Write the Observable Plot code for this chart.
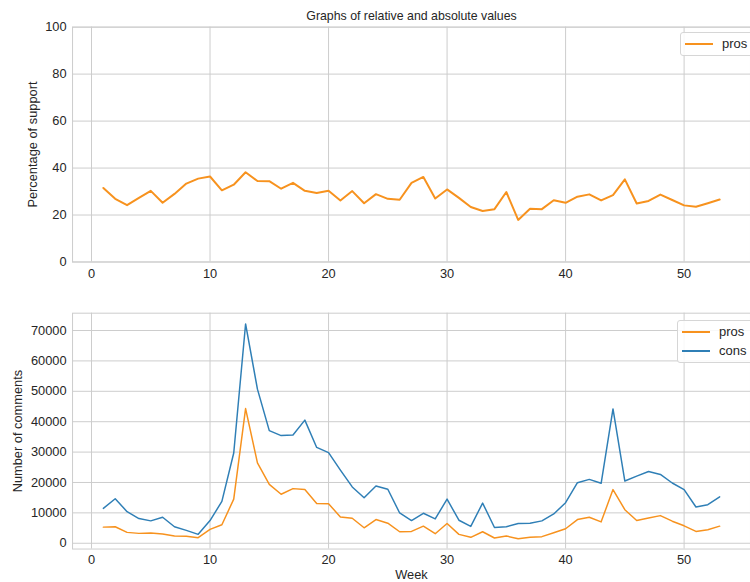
<!DOCTYPE html>
<html>
<head>
<meta charset="utf-8">
<script src="https://cdn.jsdelivr.net/npm/d3@7"></script>
<script src="https://cdn.jsdelivr.net/npm/@observablehq/plot@0.6"></script>
<style>
  html, body { margin: 0; padding: 0; background: #fff; overflow: hidden; }
  #wrap { position: relative; width: 750px; height: 582px; overflow: hidden; font-family: "Liberation Sans", Arial, sans-serif; }
  .panel { position: absolute; left: 0; }
  .legend { position: absolute; background: rgba(255,255,255,0.85); border: 1px solid #d6d6d6; border-radius: 3px; color: #262626; font-size: 13px; width: 100px; }
  .item { position: absolute; left: 0; height: 16px; }
  .swatch { position: absolute; left: 4px; width: 28px; }
  .lab { position: absolute; left: 41px; white-space: nowrap; line-height: 16px; }
</style>
</head>
<body>
<div id="wrap"></div>
<script>
// ---- data ----
const weeks = [1,2,3,4,5,6,7,8,9,10,11,12,13,14,15,16,17,18,19,20,21,22,23,24,25,26,27,28,29,30,31,32,33,34,35,36,37,38,39,40,41,42,43,44,45,46,47,48,49,50,51,52,53];
const pctPros = [31.5,26.9,24.2,27.3,30.3,25.2,29.0,33.4,35.5,36.4,30.5,32.9,38.2,34.5,34.4,31.2,33.7,30.3,29.4,30.3,26.2,30.2,25.0,28.9,26.9,26.5,33.7,36.2,27.0,30.9,27.3,23.4,21.7,22.5,29.8,17.9,22.7,22.5,26.3,25.2,27.8,28.8,26.2,28.5,35.2,24.9,26.0,28.7,26.4,24.1,23.5,25.0,26.6];
const prosCount = [5310,5420,3580,3250,3360,3030,2380,2280,1840,4550,6070,14520,44310,26440,19390,16140,17980,17660,13110,13000,8670,8230,5090,7800,6610,3790,3900,5630,3140,6500,2930,1950,3790,1730,2380,1500,1950,2170,3470,4770,7800,8560,7040,17660,11050,7480,8340,9100,7260,5740,3900,4440,5630];
const consCount = [11480,14630,10400,8130,7370,8560,5420,4230,2930,7480,13760,29690,72160,50700,37050,35430,35640,40520,31530,29800,24050,18530,14950,18850,17770,9970,7480,9860,8020,14520,7580,5530,13220,5200,5420,6500,6610,7370,9640,13330,19930,21020,19720,44200,20480,22100,23620,22640,19830,17660,11920,12680,15280];
const xTicks = [0,10,20,30,40,50];
const yTicksPct = [0,20,40,60,80,100];
const yTicksCount = [0,10000,20000,30000,40000,50000,60000,70000];
const seriesNames = ["pros","cons"];
const colors = ["#f7921e","#2f7fb6"];
const titleText = "Graphs of relative and absolute values";
const yLabelTop = "Percentage of support";
const yLabelBottom = "Number of comments";
const xLabel = "Week";

// ---- tables ----
const relData = weeks.map((w,i) => ({week: w, pct: pctPros[i]}));
const absData = [
  ...weeks.map((w,i) => ({week: w, value: prosCount[i], series: "pros"})),
  ...weeks.map((w,i) => ({week: w, value: consCount[i], series: "cons"}))
];

const grid = {stroke: "#cccccc", strokeOpacity: 1, strokeWidth: 1};
const font = {fontFamily: "'Liberation Sans', Arial, sans-serif", fontSize: "13px", color: "#262626", background: "transparent", overflow: "visible"};

const p1 = Plot.plot({
  width: 760, height: 290,
  marginLeft: 73, marginRight: 0, marginTop: 27, marginBottom: 25,
  style: font,
  x: {domain: [-1.6, 55.6]},
  y: {domain: [0, 100]},
  marks: [
    Plot.gridX(xTicks, grid),
    Plot.gridY(yTicksPct, grid),
    Plot.frame({stroke: "#cccccc"}),
    Plot.line(relData, {x: "week", y: "pct", stroke: colors[0], strokeWidth: 2}),
    Plot.axisX(xTicks, {tickSize: 0, tickPadding: 7, label: null, fontSize: 13}),
    Plot.axisY(yTicksPct, {tickSize: 0, tickPadding: 6, label: null, fontSize: 13}),
    Plot.text([yLabelTop], {text: d => d, frameAnchor: "left", textAnchor: "middle", dx: -40, rotate: -90, fontSize: 13, fill: "#262626"}),
    Plot.text([titleText], {text: d => d, frameAnchor: "top", dy: -7, lineAnchor: "bottom", fontSize: 12.5, fill: "#262626"})
  ]
});

const p2 = Plot.plot({
  width: 760, height: 310,
  marginLeft: 73, marginRight: 0, marginTop: 23, marginBottom: 48,
  style: font,
  x: {domain: [-1.6, 55.6]},
  y: {domain: [-1900, 75700]},
  color: {domain: seriesNames, range: colors},
  marks: [
    Plot.gridX(xTicks, grid),
    Plot.gridY(yTicksCount, grid),
    Plot.frame({stroke: "#cccccc"}),
    Plot.line(absData, {x: "week", y: "value", z: "series", stroke: "series", strokeWidth: 1.5}),
    Plot.axisX(xTicks, {tickSize: 0, tickPadding: 6, label: null, fontSize: 13}),
    Plot.axisY(yTicksCount, {tickSize: 0, tickPadding: 6, label: null, fontSize: 13, tickFormat: d => String(d)}),
    Plot.text([yLabelBottom], {text: d => d, frameAnchor: "left", textAnchor: "middle", dx: -55, rotate: -90, fontSize: 13, fill: "#262626"}),
    Plot.text([xLabel], {text: d => d, frameAnchor: "bottom", dy: 21, lineAnchor: "top", fontSize: 13, fill: "#262626"})
  ]
});

const wrap = document.getElementById("wrap");
p1.classList.add("panel"); p1.style.top = "0px";
p2.classList.add("panel"); p2.style.top = "290px";
wrap.appendChild(p1);
wrap.appendChild(p2);

function legend(left, top, names, cols, lw) {
  const box = document.createElement("div");
  box.className = "legend";
  box.style.left = left + "px";
  box.style.top = top + "px";
  box.style.height = (names.length * 19 + 3) + "px";
  names.forEach((n, i) => {
    const it = document.createElement("div");
    it.className = "item";
    it.style.top = (3 + i * 19) + "px";
    it.style.width = "100px";
    const sw = document.createElement("div");
    sw.className = "swatch";
    sw.style.top = (8 - lw / 2) + "px";
    sw.style.height = lw + "px";
    sw.style.background = cols[i];
    const lb = document.createElement("div");
    lb.className = "lab";
    lb.textContent = n;
    it.appendChild(sw); it.appendChild(lb);
    box.appendChild(it);
  });
  wrap.appendChild(box);
}
legend(680, 32, ["pros"], [colors[0]], 2);
legend(677, 320, seriesNames, colors, 2);
</script>
</body>
</html>
